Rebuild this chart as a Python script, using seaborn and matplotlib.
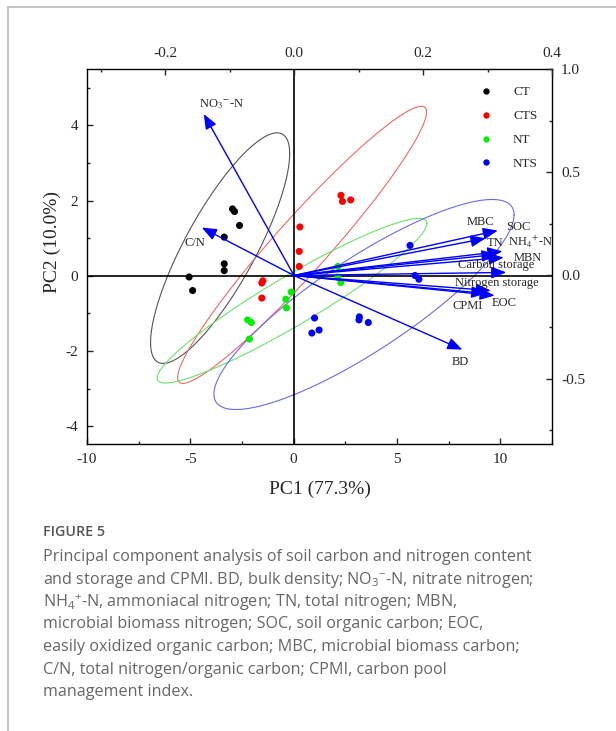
import numpy as np
import pandas as pd
import seaborn as sns
import matplotlib
matplotlib.use('Agg')
import matplotlib.pyplot as plt
from matplotlib.ticker import MultipleLocator, FormatStrFormatter

# scores (PC1, PC2)
ct_pc1 = [-2.96, -2.86, -2.62, -3.36, -3.36, -3.36, -5.06, -4.89]
ct_pc2 = [1.78, 1.71, 1.34, 1.03, 0.32, 0.14, -0.03, -0.39]
cts_pc1 = [2.29, 2.36, 2.76, 0.30, 0.27, 0.27, -1.49, -1.54, -1.54]
cts_pc2 = [2.14, 1.98, 2.02, 1.30, 0.65, 0.25, -0.13, -0.19, -0.59]
nt_pc1 = [-0.12, -0.38, -0.35, -2.23, -2.05, -2.14, 2.14, 2.14, 2.28]
nt_pc2 = [-0.43, -0.62, -0.85, -1.17, -1.24, -1.68, 0.25, -0.03, -0.18]
nts_pc1 = [1.01, 0.88, 1.23, 3.18, 3.16, 3.61, 5.63, 5.87, 6.06]
nts_pc2 = [-1.12, -1.52, -1.44, -1.09, -1.17, -1.24, 0.81, 0.01, -0.09]

groups = ['CT', 'CTS', 'NT', 'NTS']
point_colors = ['black', 'red', '#00ee00', 'blue']
ellipse_colors = ['#555555', '#e86a6a', '#6ee06e', '#6b6be6']

# loadings (top / right axes)
variables = ['NO$_3$$^{-}$-N', 'C/N', 'BD', 'SOC', 'MBC', 'NH$_4$$^{+}$-N', 'TN', 'MBN',
             'Carbon storage', 'Nitrogen storage', 'EOC', 'CPMI']
load_pc1 = [-0.140, -0.143, 0.261, 0.316, 0.297, 0.323, 0.314, 0.325, 0.329, 0.305, 0.311, 0.298]
load_pc2 = [0.782, 0.232, -0.359, 0.218, 0.180, 0.117, 0.102, 0.087, 0.015, -0.073, -0.097, -0.087]

# where each arrow label sits (loading units)
label_x = [-0.112, -0.154, 0.258, 0.348, 0.289, 0.366, 0.312, 0.362, 0.314, 0.315, 0.326, 0.269]
label_y = [0.830, 0.155, -0.417, 0.234, 0.257, 0.163, 0.158, 0.084, 0.049, -0.035, -0.135, -0.148]

caption_title = 'FIGURE 5'
caption_lines = [
    'Principal component analysis of soil carbon and nitrogen content',
    'and storage and CPMI. BD, bulk density; NO$_3$$^{-}$-N, nitrate nitrogen;',
    'NH$_4$$^{+}$-N, ammoniacal nitrogen; TN, total nitrogen; MBN,',
    'microbial biomass nitrogen; SOC, soil organic carbon; EOC,',
    'easily oxidized organic carbon; MBC, microbial biomass carbon;',
    'C/N, total nitrogen/organic carbon; CPMI, carbon pool',
    'management index.',
]

rows = []
for g, xs, ys in zip(groups, [ct_pc1, cts_pc1, nt_pc1, nts_pc1], [ct_pc2, cts_pc2, nt_pc2, nts_pc2]):
    for a, b in zip(xs, ys):
        rows.append({'group': g, 'PC1': a, 'PC2': b})
df = pd.DataFrame(rows)


# 95% prediction ellipse (same as Origin's)
def ellipse(x, y, p=0.95):
    x = np.asarray(x)
    y = np.asarray(y)
    n = len(x)
    d2 = n - 2
    f = d2 / 2 * ((1 - p) ** (-2 / d2) - 1)
    k = np.sqrt(2 * (n - 1) * (n + 1) / (n * (n - 2)) * f)
    L = np.linalg.cholesky(np.cov(x, y))
    t = np.linspace(0, 2 * np.pi, 300)
    pts = np.array([x.mean(), y.mean()])[:, None] + k * L @ np.vstack([np.cos(t), np.sin(t)])
    return pts


sns.set_style('ticks')
plt.rcParams['font.family'] = ['Liberation Serif', 'DejaVu Serif']
plt.rcParams['axes.unicode_minus'] = False
plt.rcParams['mathtext.fontset'] = 'custom'
plt.rcParams['mathtext.rm'] = 'Open Sans'
plt.rcParams['mathtext.it'] = 'Open Sans:italic'
plt.rcParams['mathtext.bf'] = 'Open Sans:bold'

W, H = 616, 731
fig = plt.figure(figsize=(W / 100, H / 100), dpi=100)
pos = [87 / W, 1 - 444 / H, 465 / W, 375 / H]
ax = fig.add_axes(pos)

for g, c in zip(groups, ellipse_colors):
    sub = df[df.group == g]
    e = ellipse(sub.PC1, sub.PC2)
    ax.plot(e[0], e[1], color=c, lw=0.8, zorder=1)

ax.axhline(0, color='black', lw=1.2, zorder=2)
ax.axvline(0, color='black', lw=1.2, zorder=2)

sns.scatterplot(data=df, x='PC1', y='PC2', hue='group', hue_order=groups,
                palette=point_colors, s=26, edgecolor='none', ax=ax, zorder=3)

ax.set_xlim(-10, 12.5)
ax.set_ylim(-4.47, 5.5)
ax.xaxis.set_major_locator(MultipleLocator(5))
ax.xaxis.set_minor_locator(MultipleLocator(2.5))
ax.yaxis.set_major_locator(MultipleLocator(2))
ax.yaxis.set_minor_locator(MultipleLocator(1))
ax.tick_params(which='both', direction='in', top=False, right=False, width=1.0, labelsize=11)
ax.tick_params(which='major', length=4.5, pad=6.5)
ax.tick_params(which='minor', length=2.5)
ax.set_xlabel('PC1 (77.3%)', fontsize=14)
ax.set_ylabel('PC2 (10.0%)', fontsize=14)
ax.xaxis.set_label_coords(0.5, -0.099)
ax.yaxis.set_label_coords(-0.056, 0.54)
for s in ax.spines.values():
    s.set_linewidth(1.0)
    s.set_color('black')

leg = ax.legend(loc='upper left', bbox_to_anchor=(0.844, 0.954), frameon=False, fontsize=9.5,
                handlelength=1.0, handletextpad=1.55, labelspacing=0.88, borderpad=0,
                borderaxespad=0, markerscale=0.9)

# loadings on top/right axes
ax2 = fig.add_axes(pos, frameon=False)
ax2.set_xlim(-0.321, 0.4)
ax2.set_ylim(-0.816, 1.0)
ax2.xaxis.tick_top()
ax2.yaxis.tick_right()
ax2.xaxis.set_major_locator(MultipleLocator(0.2))
ax2.xaxis.set_minor_locator(MultipleLocator(0.1))
ax2.yaxis.set_major_locator(MultipleLocator(0.5))
ax2.yaxis.set_minor_locator(MultipleLocator(0.25))
ax2.xaxis.set_major_formatter(FormatStrFormatter('%.1f'))
ax2.yaxis.set_major_formatter(FormatStrFormatter('%.1f'))
ax2.tick_params(which='both', direction='in', width=1.0, labelsize=11)
ax2.tick_params(which='major', length=4.5, pad=6.5)
ax2.tick_params(which='minor', length=2.5)

for v, lx, ly, tx, ty in zip(variables, load_pc1, load_pc2, label_x, label_y):
    ax2.annotate('', xy=(lx, ly), xytext=(0, 0),
                 arrowprops=dict(arrowstyle='-|>,head_length=0.45,head_width=0.18',
                                 color='blue', lw=1.0, shrinkA=0, shrinkB=0,
                                 mutation_scale=20), zorder=4)
    ax2.text(tx, ty, v, fontsize=9, ha='center', va='center', math_fontfamily='stix', zorder=5)

# caption and card border
fig.add_artist(plt.Line2D([8 / W, 1], [1 - 7 / H, 1 - 7 / H], color='#bbbbbb', lw=1.2))
fig.add_artist(plt.Line2D([8 / W, 8 / W], [0, 1 - 7 / H], color='#bbbbbb', lw=1.2))
fig.text(43 / W, 1 - 532 / H, caption_title, fontsize=10.3, family='Open Sans',
         weight='semibold', color='#555555', va='center')
for i, line in enumerate(caption_lines):
    fig.text(43 / W, 1 - (557 + 22.5 * i) / H, line, fontsize=11.6, family='Open Sans',
             color='#666666', va='center')

fig.savefig('out.png', dpi=100)
